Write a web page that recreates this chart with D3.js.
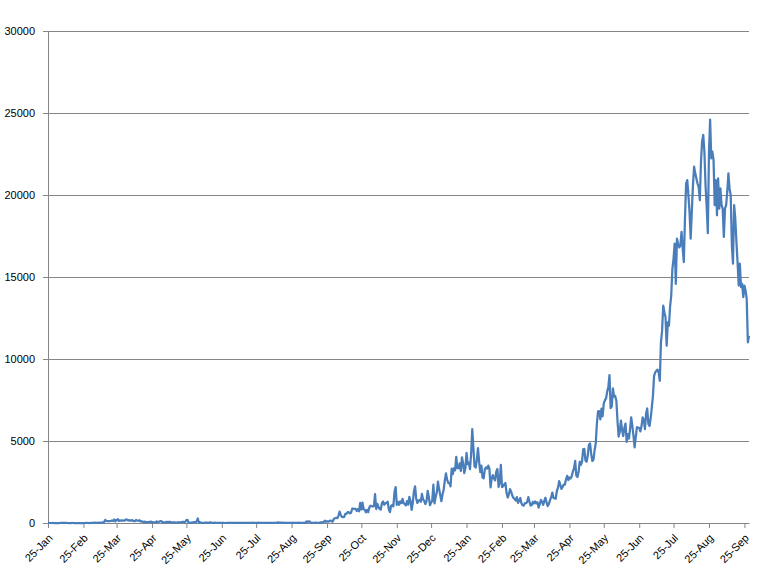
<!DOCTYPE html>
<html>
<head>
<meta charset="utf-8">
<script src="https://cdn.jsdelivr.net/npm/d3@7"></script>
<style>
  body { margin: 0; background: #fff; }
  svg { display: block; font-family: "Liberation Sans", Arial, sans-serif; }
</style>
</head>
<body>
<div id="chart"></div>
<script>
// daily new cases, first value is 25 Jan 2020
const startDate = new Date(2020, 0, 25);

const jan2020 = [3, 1, 0, 0, 3, 0, 0];
const feb2020 = [0, 0, 0, 0, 2, 2, 2, 1, 1, 1, 0, 0, 0, 0, 1, 0, 0, 0, 0, 0, 0, 0, 0, 0, 0, 0, 4, 0, 2];
const mar2020 = [0, 0, 7, 14, 5, 28, 10, 6, 18, 12, 20, 9, 39, 41, 190, 125, 120, 117, 110, 130, 153, 123, 212, 106, 172, 235, 130, 159, 150, 156, 140];
const apr2020 = [142, 208, 217, 150, 179, 131, 170, 156, 109, 118, 184, 153, 134, 170, 85, 110, 69, 54, 84, 36, 57, 50, 71, 88, 51, 38, 40, 31, 94, 57];
const may2020 = [69, 105, 122, 55, 30, 45, 39, 68, 54, 67, 70, 16, 37, 40, 36, 17, 22, 47, 37, 31, 50, 78, 48, 60, 172, 187, 15, 10, 30, 20, 38];
const jun2020 = [57, 38, 93, 277, 19, 37, 19, 7, 2, 7, 31, 7, 17, 11, 41, 8, 8, 10, 22, 15, 6, 3, 2, 4, 4, 5, 1, 0, 3, 3];
const jul2020 = [3, 3, 7, 3, 3, 3, 2, 5, 4, 7, 8, 1, 5, 7, 8, 10, 4, 2, 9, 7, 5, 21, 15, 6, 4, 10, 23, 8, 14, 13, 2];
const aug2020 = [3, 12, 10, 10, 8, 13, 11, 4, 8, 13, 4, 13, 36, 7, 25, 17, 9, 18, 8, 9, 7, 5, 10, 6, 3, 16, 14, 15, 9, 6, 20];
const sep2020 = [6, 5, 5, 10, 10, 6, 100, 62, 100, 82, 18, 15, 9, 12, 22, 16, 14, 11, 16, 52, 21, 57, 147, 71, 111, 82, 115, 150, 101, 89];
const oct2020 = [260, 287, 317, 293, 432, 691, 489, 375, 354, 374, 561, 563, 660, 660, 589, 629, 869, 871, 865, 862, 732, 847, 710, 1228, 823, 1240, 835, 801, 649, 799, 659];
const nov2020 = [957, 1054, 1032, 1009, 1032, 1755, 852, 1168, 972, 869, 822, 1208, 1309, 1114, 1208, 1210, 1304, 849, 660, 1041, 1096, 1010, 1884, 2188, 1109, 1290, 1109, 1315, 1212, 1472];
const dec2020 = [1212, 1141, 1075, 1335, 1123, 1600, 1340, 798, 1229, 1937, 2234, 1477, 1220, 1371, 1410, 1295, 1772, 1436, 1340, 1155, 1340, 1966, 1589, 1085, 1247, 1350, 2335, 1196, 1594, 1870, 2525];
const jan2021 = [2068, 1704, 1328, 1741, 2027, 2593, 3027, 2643, 2451, 2433, 2232, 3309, 2985, 3337, 3211, 4029, 3346, 3339, 3631, 3170, 4008, 3636, 3048, 3346, 4275, 3585, 3680, 3288, 4193, 5728, 4571];
const feb2021 = [3455, 3380, 3847, 4571, 3731, 3100, 3499, 2764, 2718, 3288, 3384, 3318, 3499, 3297, 2176, 2720, 2923, 2712, 2600, 3130, 3297, 2192, 2468, 3545, 2192, 2253, 2364, 2437];
const mar2021 = [1828, 1555, 1745, 2063, 1919, 1680, 1529, 1470, 1365, 1575, 1226, 1360, 1522, 1208, 1086, 1063, 1213, 1215, 1275, 1576, 1310, 1066, 1085, 1288, 1192, 1319, 1199, 1263, 941, 1134, 1408];
const apr2021 = [1309, 1100, 1349, 1540, 1240, 1033, 1163, 1395, 1561, 1854, 1540, 1500, 1482, 1967, 2148, 2551, 2331, 2078, 2195, 2341, 2340, 2668, 2875, 2620, 2776, 2717, 2848, 3142, 3332, 3788];
const may2021 = [2881, 2802, 3120, 3744, 3551, 3745, 4498, 4519, 3807, 3733, 4113, 4765, 4855, 4211, 3780, 3862, 4446, 4865, 6075, 6806, 6823, 6320, 6976, 6509, 7289, 7478, 7600, 8010, 8290, 9020, 6999];
const jun2021 = [7105, 8209, 7703, 7748, 7452, 6241, 5271, 5566, 6239, 5671, 5305, 5793, 6064, 4949, 5419, 5150, 5741, 6440, 5911, 5293, 4611, 5244, 5841, 5812, 5803, 5586, 5911, 6437, 6276, 5728];
const jul2021 = [6658, 6982, 6045, 5916, 6387, 7040, 7750, 8970, 9180, 9280, 9353, 9180, 8670, 11020, 11730, 13260, 12850, 12550, 10810, 12240, 12030, 13200, 13870, 15500, 16110, 17030, 14580, 17340, 17030, 16800, 16930];
const aug2021 = [17750, 16730, 15910, 18560, 20700, 20910, 19990, 18970, 17340, 19000, 20600, 21730, 21320, 21000, 20700, 20500, 19680, 22030, 23260, 23660, 22640, 20579, 19268, 17672, 22597, 24599, 22230, 22640, 22130, 19380, 20910];
const sep2021 = [18760, 21010, 19170, 20400, 19380, 19170, 17440, 19170, 19380, 20200, 21320, 20400, 19990, 16930, 15810, 19380, 18560, 17140, 15910, 14480, 15810, 14380, 14580, 13770, 14480, 14170, 13660, 11020, 11420];

const yTicks = [0, 5000, 10000, 15000, 20000, 25000, 30000];
// a tick on the 25th of every month
const xTicks = d3.range(21).map(i => new Date(2020, i, 25));

const values = [].concat(jan2020, feb2020, mar2020, apr2020, may2020, jun2020,
  jul2020, aug2020, sep2020, oct2020, nov2020, dec2020, jan2021, feb2021,
  mar2021, apr2021, may2021, jun2021, jul2021, aug2021, sep2021);
const data = values.map((v, i) => ({ date: d3.timeDay.offset(startDate, i), value: v }));

const width = 761;
const height = 574;
const margin = { top: 31, right: 12, bottom: 51, left: 48 };

const svg = d3.select('#chart').append('svg')
    .attr('width', width)
    .attr('height', height);

const x = d3.scaleTime()
    .domain([startDate, data[data.length - 1].date])
    .range([margin.left, width - margin.right]);

const y = d3.scaleLinear()
    .domain([0, 30000])
    .range([height - margin.bottom, margin.top]);

const gray = '#868686';

// gridlines
svg.append('g')
  .selectAll('line')
  .data(yTicks.slice(1))
  .join('line')
    .attr('x1', margin.left)
    .attr('x2', width - margin.right)
    .attr('y1', d => Math.round(y(d)) + 0.5)
    .attr('y2', d => Math.round(y(d)) + 0.5)
    .attr('stroke', gray)
    .attr('stroke-width', 1);

// y axis
const yAxis = svg.append('g')
    .attr('transform', `translate(${margin.left},0)`)
    .call(d3.axisLeft(y).tickValues(yTicks).tickSize(5).tickPadding(8).tickSizeOuter(0)
      .tickFormat(d3.format('d')));
yAxis.select('.domain').attr('stroke', gray);
yAxis.selectAll('.tick line').attr('stroke', gray);
yAxis.selectAll('.tick text')
    .attr('font-size', 11)
    .attr('fill', '#000')
    .attr('font-family', '"Liberation Sans", Arial, sans-serif');

// x axis
const xAxis = svg.append('g')
    .attr('transform', `translate(0,${height - margin.bottom})`)
    .call(d3.axisBottom(x).tickValues(xTicks).tickSize(5).tickSizeOuter(0)
      .tickFormat(d3.timeFormat('%d-%b')));
xAxis.select('.domain').attr('stroke', gray);
xAxis.selectAll('.tick line').attr('stroke', gray);
xAxis.selectAll('.tick text')
    .attr('font-size', 11)
    .attr('fill', '#000')
    .attr('font-family', '"Liberation Sans", Arial, sans-serif')
    .attr('text-anchor', 'end')
    .attr('dy', '0.35em')
    .attr('y', 0)
    .attr('transform', 'translate(2,13) rotate(-45)');

// series
const line = d3.line()
    .x(d => x(d.date))
    .y(d => y(d.value));

svg.append('path')
    .datum(data)
    .attr('fill', 'none')
    .attr('stroke', '#4a7ebb')
    .attr('stroke-width', 2.25)
    .attr('stroke-linejoin', 'round')
    .attr('d', line);
</script>
</body>
</html>
